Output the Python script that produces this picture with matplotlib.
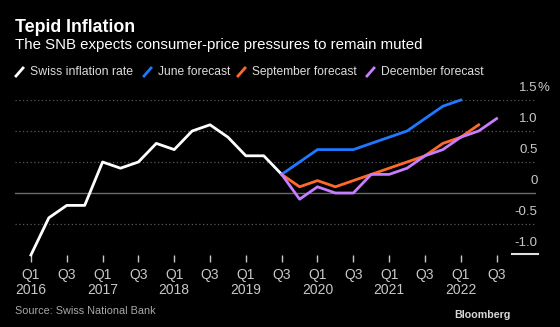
import matplotlib
matplotlib.use("Agg")
import matplotlib.pyplot as plt
from matplotlib.lines import Line2D

plt.rcParams['font.family'] = ['Liberation Sans', 'DejaVu Sans']

# quarter index 0 = Q1 2016
swiss_q = list(range(0, 15))
swiss = [-1.0, -0.4, -0.2, -0.2, 0.5, 0.4, 0.5, 0.8, 0.7, 1.0, 1.1, 0.9, 0.6, 0.6, 0.3]

june_q = list(range(14, 25))
june = [0.3, 0.5, 0.7, 0.7, 0.7, 0.8, 0.9, 1.0, 1.2, 1.4, 1.5]

sept_q = list(range(14, 26))
sept = [0.3, 0.1, 0.2, 0.1, 0.2, 0.3, 0.4, 0.5, 0.6, 0.8, 0.9, 1.1]

dec_q = list(range(14, 27))
dec = [0.3, -0.1, 0.1, 0.0, 0.0, 0.3, 0.3, 0.4, 0.6, 0.7, 0.9, 1.0, 1.2]

xtick_pos = list(range(0, 27, 2))
xtick_labels = ['Q1\n2016', 'Q3', 'Q1\n2017', 'Q3', 'Q1\n2018', 'Q3', 'Q1\n2019', 'Q3',
                'Q1\n2020', 'Q3', 'Q1\n2021', 'Q3', 'Q1\n2022', 'Q3']
ytick_vals = [-1.0, -0.5, 0, 0.5, 1.0, 1.5]
ytick_labels = ['-1.0', '-0.5', '0', '0.5', '1.0', '1.5']

series_names = ['Swiss inflation rate', 'June forecast', 'September forecast', 'December forecast']
colors = ['#ffffff', '#1f78ff', '#ff6a2a', '#c77dff']

W, H = 560, 327
fig = plt.figure(figsize=(5.6, 3.27), dpi=100, facecolor='black')
ax = fig.add_axes([15 / W, 1 - 255 / H, (536 - 15) / W, (255 - 100) / H], facecolor='black')
renderer = fig.canvas.get_renderer()


def fit_width(t, width_px):
    # scale font so the text spans the width seen in the reference
    w = t.get_window_extent(renderer).width
    t.set_fontsize(t.get_fontsize() * width_px / w)
    return t


# gridlines
for v in ytick_vals:
    if v == 0:
        ax.axhline(0, color='#6a6a6a', lw=1.0, zorder=1)
    elif v > -1.0:
        ax.axhline(v, color='#5a5a5a', lw=0.9, ls=(0, (1, 2)), zorder=1)

ax.plot(swiss_q, swiss, color=colors[0], lw=2.0, zorder=3, clip_on=False)
ax.plot(june_q, june, color=colors[1], lw=2.0, zorder=3, clip_on=False)
ax.plot(sept_q, sept, color=colors[2], lw=2.0, zorder=3, clip_on=False)
ax.plot(dec_q, dec, color=colors[3], lw=2.0, zorder=4, clip_on=False)

ax.set_xlim(-0.89, 28.2)
ax.set_ylim(-1.0, 1.5)
for s in ax.spines.values():
    s.set_visible(False)
ax.set_yticks([])
ax.set_xticks(xtick_pos)
ax.set_xticklabels(xtick_labels, color='#c8c8c8', fontsize=10, linespacing=1.1)
ax.tick_params(axis='x', colors='#c8c8c8', length=5, width=1, pad=4, direction='out')

# y labels on the right, above gridlines
for v, t in zip(ytick_vals, ytick_labels):
    ax.annotate(t, xy=(1.0, v), xycoords=('axes fraction', 'data'), xytext=(1, 4),
                textcoords='offset points', ha='right', va='bottom', color='#c8c8c8', fontsize=9.5)
ax.annotate('%', xy=(1.0, 1.5), xycoords=('axes fraction', 'data'), xytext=(1, 4),
            textcoords='offset points', ha='left', va='bottom', color='#c8c8c8', fontsize=9.5)

# short baseline under the y labels
fig.add_artist(Line2D([512 / W, 538 / W], [1 - 253.5 / H] * 2, color='#e0e0e0', lw=1.5, zorder=10))

# titles
t1 = fig.text(15 / W, 1 - 27 / H, 'Tepid Inflation', color='white', fontsize=12, fontweight='bold', va='center')
fit_width(t1, 119)
t2 = fig.text(15 / W, 1 - 45 / H, 'The SNB expects consumer-price pressures to remain muted',
              color='white', fontsize=11, va='center')
fit_width(t2, 405)

# legend
leg_x = [16, 144, 238, 367]
leg_w = [103, 72, 105, 102]
for x0, name, c, wpx in zip(leg_x, series_names, colors, leg_w):
    fig.add_artist(Line2D([x0 / W, (x0 + 7) / W], [1 - 76 / H, 1 - 68 / H], color=c, lw=2.0))
    tl = fig.text((x0 + 14) / W, 1 - 72 / H, name, color='#dddddd', fontsize=9, va='center')
    fit_width(tl, wpx)

ts = fig.text(15 / W, 1 - 311 / H, 'Source: Swiss National Bank', color='#a8a8a8', fontsize=9, va='center')
fit_width(ts, 140)
tb = fig.text(511 / W, 1 - 315 / H, 'Bloomberg', color='#d8d8d8', fontsize=9, fontweight='bold',
              ha='right', va='center')
fit_width(tb, 56)

fig.savefig('out.png', dpi=100, facecolor='black')
